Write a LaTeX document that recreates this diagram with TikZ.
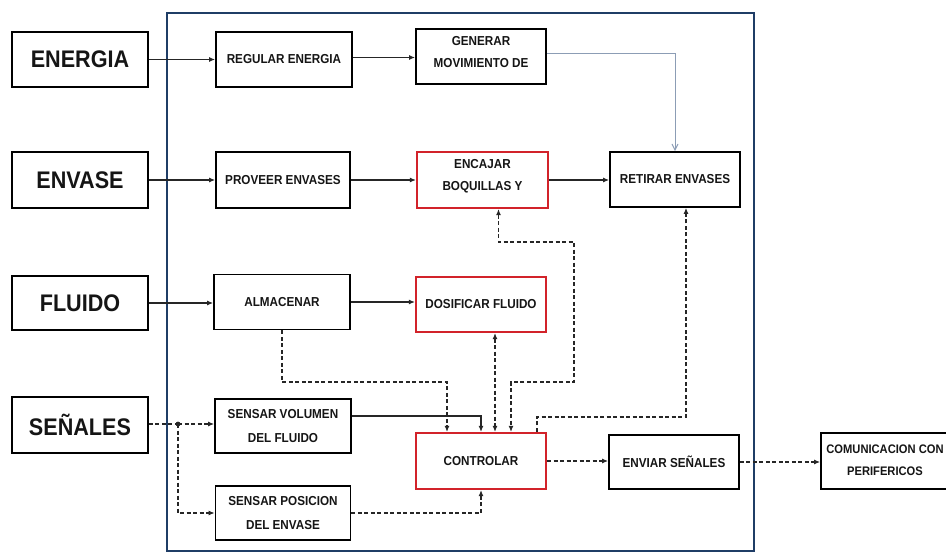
\documentclass[tikz,border=0pt]{standalone}
\usepackage{fontspec}
\setmainfont{Liberation Sans}[FakeStretch=0.9]
\usetikzlibrary{arrows.meta}
\definecolor{navy}{HTML}{1F3D66}
\definecolor{boxred}{HTML}{D2232A}
\definecolor{txt}{HTML}{151515}
\definecolor{steel}{HTML}{8C9DB5}
\tikzset{
  blk/.style={draw=black, fill=white, line width=1.8pt, rectangle, inner sep=0pt, text=txt},
  redb/.style={draw=boxred, fill=white, line width=2.2pt, rectangle, inner sep=0pt, text=txt},
  bigf/.style={font=\fontsize{24}{28}\selectfont\bfseries},
  smf/.style={font=\fontsize{13}{24}\selectfont\bfseries, align=center},
  smg/.style={font=\fontsize{13}{22}\selectfont\bfseries, align=center, text=txt, inner sep=0pt},
  tip/.tip={Latex[length=6pt,width=5pt]},
  conn/.style={line width=1.1pt, draw=black!85, -tip},
  dconn/.style={conn, dash pattern=on 4pt off 2.5pt},
  dline/.style={line width=1.1pt, draw=black!85, dash pattern=on 4pt off 2.5pt},
}
\begin{document}
\begin{tikzpicture}[x=1pt,y=-1pt]
\useasboundingbox (0,0) rectangle (946,554);
\draw[navy, line width=2.2pt] (167,13) rectangle (754,551);

% outer inputs
\node[blk, bigf, minimum width=136, minimum height=55] (energia) at (80,59.5) {ENERGIA};
\node[blk, bigf, minimum width=136, minimum height=56] (envase) at (80,180) {ENVASE};
\node[blk, bigf, minimum width=136, minimum height=54] (fluido) at (80,303) {FLUIDO};
\node[blk, bigf, minimum width=136, minimum height=56] (senales) at (80,425) {SEÑALES};

% second column
\node[blk, smf, minimum width=136, minimum height=55] (reg) at (284,59.5) {REGULAR ENERGIA};
\node[blk, smf, minimum width=134, minimum height=56] (prov) at (283,180) {PROVEER ENVASES};
\node[blk, smf, minimum width=136, minimum height=55] (alm) at (282,302) {ALMACENAR};
\node[blk, smf, minimum width=136, minimum height=54] (senvol) at (283,426) {SENSAR VOLUMEN\\DEL FLUIDO};
\node[blk, smf, minimum width=135, minimum height=54] (senpos) at (283,513) {SENSAR POSICION\\DEL ENVASE};

% third column
\node[blk, minimum width=130, minimum height=55] (gen) at (481,56.5) {};
\node[smg] (gen-t) at (481,52) {GENERAR\\MOVIMIENTO DE};
\node[redb, minimum width=131, minimum height=56] (enc) at (482.5,180) {};
\node[smg] (enc-t) at (482.5,176) {ENCAJAR\\BOQUILLAS Y};
\node[redb, smf, minimum width=130, minimum height=55] (dos) at (481,304.5) {DOSIFICAR FLUIDO};
\node[redb, smf, minimum width=130, minimum height=56] (ctrl) at (481,461) {CONTROLAR};

% fourth column
\node[blk, smf, minimum width=130, minimum height=55] (ret) at (675,179.5) {RETIRAR ENVASES};
\node[blk, smf, minimum width=130, minimum height=54] (env) at (674,462) {ENVIAR SEÑALES};
\node[blk, minimum width=134, minimum height=56] (com) at (888,461) {};
\node[smg, font=\fontsize{12.4}{22}\selectfont\bfseries] (com-t) at (885,460.5) {COMUNICACION CON\\PERIFERICOS};

% solid flows
\draw[conn] (energia.east) -- (energia.east -| reg.west);
\draw[conn] ([yshift=2]reg.east) -- ([yshift=2]reg.east -| gen.west);
\draw[conn] (envase.east) -- (envase.east -| prov.west);
\draw[conn] (prov.east) -- (prov.east -| enc.west);
\draw[conn] (enc.east) -- (enc.east -| ret.west);
\draw[conn] (fluido.east) -- (fluido.east -| alm.west);
\draw[conn] (alm.east) -- (alm.east -| dos.west);
\draw[line width=1pt, steel, -{Straight Barb[length=6pt,width=6pt]}] ([yshift=3.5]gen.east) -| (ret.north);
\draw[conn] ([yshift=10]senvol.east) -| (ctrl.north);

% signals
\coordinate (dot) at (178,424);
\fill[black!85] (dot) circle (2.4pt);
\draw[dline] (senales.east |- dot) -- (dot);
\draw[dconn] (dot) -- (senvol.west |- dot);
\draw[dconn] (dot) |- (senpos.west);

% control links
\coordinate (a1) at (447,382);
\draw[dconn] (alm.south) |- (a1) -- (a1 |- ctrl.north);
\draw[dconn, tip-tip] ([xshift=14]dos.south) -- ([xshift=14]ctrl.north);
\coordinate (b1) at (574,242);
\coordinate (b2) at (574,382);
\draw[dconn, tip-tip] ([xshift=16]enc.south) |- (b1) -- (b2) -| ([xshift=30]ctrl.north);
\coordinate (r1) at (686,417);
\draw[dconn] ([xshift=56]ctrl.north) |- (r1) -- (r1 |- ret.south);
\draw[dconn] (senpos.east) -| (ctrl.south);
\draw[dconn] (ctrl.east) -- (ctrl.east -| env.west);
\draw[dconn] (env.east) -- (env.east -| com.west);
\end{tikzpicture}
\end{document}
